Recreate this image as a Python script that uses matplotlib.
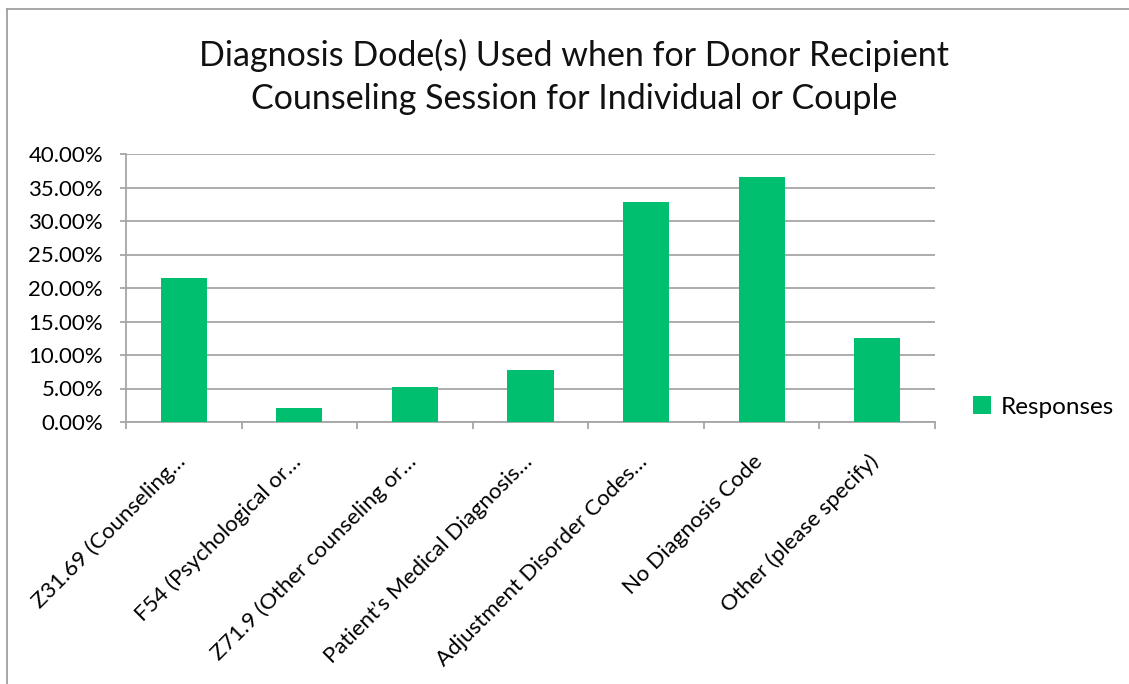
import numpy as np
import matplotlib.pyplot as plt
from matplotlib.lines import Line2D
from matplotlib.ticker import FuncFormatter, MultipleLocator
from matplotlib.transforms import ScaledTranslation

plt.rcParams['font.family'] = ['Lato', 'DejaVu Sans']

# data
categories = ['Z31.69 (Counseling…', 'F54 (Psychological or…', 'Z71.9 (Other counseling or…',
              'Patient’s Medical Diagnosis…', 'Adjustment Disorder Codes…',
              'No Diagnosis Code', 'Other (please specify)']
responses = [21.43, 2.04, 5.22, 7.80, 32.89, 36.57, 12.57]
title = 'Diagnosis Dode(s) Used when for Donor Recipient\nCounseling Session for Individual or Couple'

green = '#00BF6F'
grid_col = '#A6A6A6'

fig = plt.figure(figsize=(11.29, 6.84), dpi=100)
ax = fig.add_axes([126/1129, 262/684, (935-126)/1129, (422-154)/684])

x = np.arange(len(categories))
ax.bar(x, responses, width=0.4, color=green, label='Responses', zorder=3)

ax.set_xlim(-0.5, len(categories) - 0.5)
ax.set_ylim(0, 40)
ax.yaxis.set_major_locator(MultipleLocator(5))
ax.yaxis.set_major_formatter(FuncFormatter(lambda v, p: f'{v:.2f}%'))
ax.grid(axis='y', color=grid_col, linewidth=1.3, zorder=0)

for s in ['top', 'right']:
    ax.spines[s].set_visible(False)
for s in ['left', 'bottom']:
    ax.spines[s].set_color(grid_col)
    ax.spines[s].set_linewidth(1.3)

ax.set_xticks(x)
ax.set_xticklabels(categories, rotation=45, ha='right', rotation_mode='anchor', fontsize=16)
ax.tick_params(axis='x', which='major', length=0, pad=8)
ax.set_xticks(np.arange(-0.5, len(categories)), minor=True)
ax.tick_params(axis='x', which='minor', length=5, color=grid_col, width=1.3)
ax.tick_params(axis='y', length=4.5, color=grid_col, width=1.3, labelsize=16, pad=12)

# nudge category labels down-left like the original
shift = ScaledTranslation(-9/100, -18/100, fig.dpi_scale_trans)
for lbl in ax.get_xticklabels():
    lbl.set_transform(lbl.get_transform() + shift)

fig.text(574/1129, 1 - 77/684, title, ha='center', va='center', fontsize=24.5,
         linespacing=1.45, color='#111111')

ax.legend(loc='center left', bbox_to_anchor=(951/1129, 1 - 407/684),
          bbox_transform=fig.transFigure, frameon=False, fontsize=17.5,
          handlelength=0.75, handleheight=0.75, handletextpad=0.4)

# outer chart border (top and left only visible)
fig.add_artist(Line2D([7/1129, 7/1129], [0, 1 - 9/684], color='#A0A0A0', lw=1.3,
                      transform=fig.transFigure))
fig.add_artist(Line2D([7/1129, 1], [1 - 9/684, 1 - 9/684], color='#A0A0A0', lw=1.3,
                      transform=fig.transFigure))

fig.savefig('out.png', dpi=100)
